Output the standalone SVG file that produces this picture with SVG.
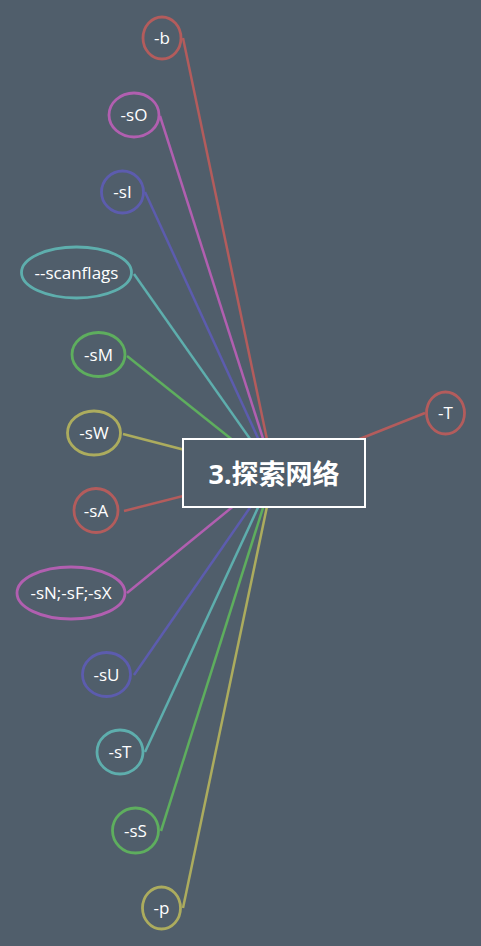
<svg xmlns="http://www.w3.org/2000/svg" width="481" height="946" viewBox="0 0 481 946">
<style>
.bg{fill:#505e6b}
.n{fill:none;stroke-width:2.8}
.t{font-family:"Open Sans","Noto Sans","Liberation Sans",sans-serif;font-size:17px;fill:#ffffff;text-anchor:middle}
.c{fill:none;stroke-width:2.5}
.red{stroke:#b35c5c}
.mag{stroke:#b15fb0}
.ind{stroke:#5c5cae}
.tea{stroke:#5eaead}
.grn{stroke:#5eae5e}
.olv{stroke:#acac5e}
.root{fill:#505e6b;stroke:#ffffff;stroke-width:2}
.rt{font-family:"Noto Sans","Noto Sans CJK SC",sans-serif;font-size:27px;font-weight:bold;fill:#ffffff;text-anchor:middle}
</style>
<rect class="bg" x="0" y="0" width="481" height="946"/>
<g id="connectors">
<line class="c red" x1="183" y1="38" x2="274" y2="473"/>
<line class="c mag" x1="160" y1="116" x2="274" y2="473"/>
<line class="c ind" x1="145" y1="192" x2="274" y2="473"/>
<line class="c tea" x1="134" y1="274" x2="274" y2="473"/>
<line class="c grn" x1="127" y1="356" x2="274" y2="473"/>
<line class="c olv" x1="123" y1="434" x2="274" y2="473"/>
<line class="c red" x1="124" y1="511" x2="274" y2="473"/>
<line class="c mag" x1="127" y1="593" x2="274" y2="473"/>
<line class="c ind" x1="134" y1="675" x2="274" y2="473"/>
<line class="c tea" x1="145" y1="752" x2="274" y2="473"/>
<line class="c grn" x1="161" y1="831" x2="274" y2="473"/>
<line class="c olv" x1="183" y1="908" x2="274" y2="473"/>
<line class="c red" x1="425" y1="413" x2="274" y2="473"/>
</g>
<g id="root">
<rect class="root" x="183" y="439" width="182" height="68"/>
<text class="rt" x="274" y="484">3.探索网络</text>
</g>
<g id="n-b"><ellipse class="n red" cx="162" cy="38" rx="19" ry="21"/><text class="t" x="162" y="44">-b</text></g>
<g id="n-sO"><ellipse class="n mag" cx="134" cy="115" rx="25" ry="22"/><text class="t" x="134" y="121">-sO</text></g>
<g id="n-sI"><ellipse class="n ind" cx="122.5" cy="192" rx="21" ry="21"/><text class="t" x="122.5" y="198">-sI</text></g>
<g id="n-scanflags"><ellipse class="n tea" cx="76.5" cy="272.5" rx="55" ry="25.5"/><text class="t" x="76.5" y="278.5">--scanflags</text></g>
<g id="n-sM"><ellipse class="n grn" cx="98.5" cy="354.5" rx="26.5" ry="22"/><text class="t" x="98.5" y="360.5">-sM</text></g>
<g id="n-sW"><ellipse class="n olv" cx="94" cy="433" rx="26.5" ry="22"/><text class="t" x="94" y="439">-sW</text></g>
<g id="n-sA"><ellipse class="n red" cx="96" cy="510.5" rx="22" ry="22"/><text class="t" x="96" y="516.5">-sA</text></g>
<g id="n-sN"><ellipse class="n mag" cx="71" cy="593" rx="54" ry="26"/><text class="t" x="71" y="599">-sN;-sF;-sX</text></g>
<g id="n-sU"><ellipse class="n ind" cx="106.5" cy="674.5" rx="24" ry="22"/><text class="t" x="106.5" y="680.5">-sU</text></g>
<g id="n-sT"><ellipse class="n tea" cx="120" cy="752" rx="23" ry="22"/><text class="t" x="120" y="758">-sT</text></g>
<g id="n-sS"><ellipse class="n grn" cx="135.5" cy="830.5" rx="23" ry="22.5"/><text class="t" x="135.5" y="836.5">-sS</text></g>
<g id="n-p"><ellipse class="n olv" cx="161.5" cy="908" rx="19" ry="21"/><text class="t" x="161.5" y="914">-p</text></g>
<g id="n-T"><ellipse class="n red" cx="445.5" cy="413" rx="19" ry="21"/><text class="t" x="445.5" y="419">-T</text></g>
</svg>
